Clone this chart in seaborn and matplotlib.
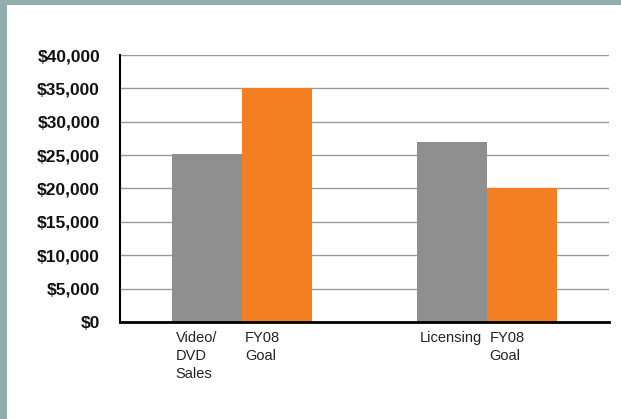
import matplotlib
matplotlib.use("Agg")
import matplotlib.pyplot as plt
import matplotlib.patches as mpatches
from matplotlib.ticker import FuncFormatter, MultipleLocator
import seaborn as sns
import pandas as pd

# ---- data ----
groups = ["Video/DVD Sales", "Video/DVD Sales", "Licensing", "Licensing"]
series = ["Actual", "FY08 Goal", "Actual", "FY08 Goal"]
values = [25200, 35000, 27000, 20000]
bar_labels = ["Video/\nDVD\nSales", "FY08\nGoal", "Licensing", "FY08\nGoal"]
colors = {"Actual": "#8F8F8F", "FY08 Goal": "#F47E22"}

df = pd.DataFrame({"group": groups, "series": series, "value": values})

sns.set_theme(style="white")
plt.rcParams["font.family"] = ["Liberation Sans", "DejaVu Sans"]

W, H = 621, 419
fig = plt.figure(figsize=(W / 100, H / 100), dpi=100)
fig.patch.set_facecolor("white")

# teal frame on top and left
fig.patches.append(mpatches.Rectangle((0, 1 - 5 / H), 1, 5 / H, transform=fig.transFigure,
                                      facecolor="#92ADAE", edgecolor="none", zorder=0))
fig.patches.append(mpatches.Rectangle((0, 0), 7 / W, 1, transform=fig.transFigure,
                                      facecolor="#92ADAE", edgecolor="none", zorder=0))

ax = fig.add_axes([120 / W, (H - 322) / H, (609 - 120) / W, (322 - 55) / H])
ax.set_facecolor("white")

sns.barplot(data=df, x="group", y="value", hue="series", palette=colors,
            width=0.571, saturation=1, legend=False, ax=ax,
            order=["Video/DVD Sales", "Licensing"], hue_order=["Actual", "FY08 Goal"],
            edgecolor="none", linewidth=0)

ax.set_ylim(0, 40000)
ax.set_xlim(-0.5, 1.5)
ax.yaxis.set_major_locator(MultipleLocator(5000))
ax.yaxis.set_major_formatter(FuncFormatter(lambda v, p: f"${v:,.0f}"))
ax.grid(axis="y", color="#9A9A9A", linewidth=1.0)
ax.grid(axis="x", visible=False)
ax.set_axisbelow(True)

for s in ["top", "right"]:
    ax.spines[s].set_visible(False)
ax.spines["left"].set_color("black")
ax.spines["left"].set_linewidth(1.5)
ax.spines["bottom"].set_color("black")
ax.spines["bottom"].set_linewidth(2)

ax.tick_params(axis="y", length=0, pad=14.4, labelsize=12.5, labelcolor="#111111")
for t in ax.get_yticklabels():
    t.set_fontweight("bold")
ax.tick_params(axis="x", length=0)
ax.set_xticklabels([])
ax.set_xlabel("")
ax.set_ylabel("")

bars = sorted([p for p in ax.patches if p.get_width() > 0], key=lambda p: p.get_x())
for p, lab in zip(bars, bar_labels):
    ax.annotate(lab, xy=(p.get_x(), 0), xycoords="data",
                xytext=(3, -9), textcoords="offset pixels",
                ha="left", va="top", fontsize=10.5, color="#222222",
                linespacing=1.38)

fig.savefig("out.png", dpi=100)
